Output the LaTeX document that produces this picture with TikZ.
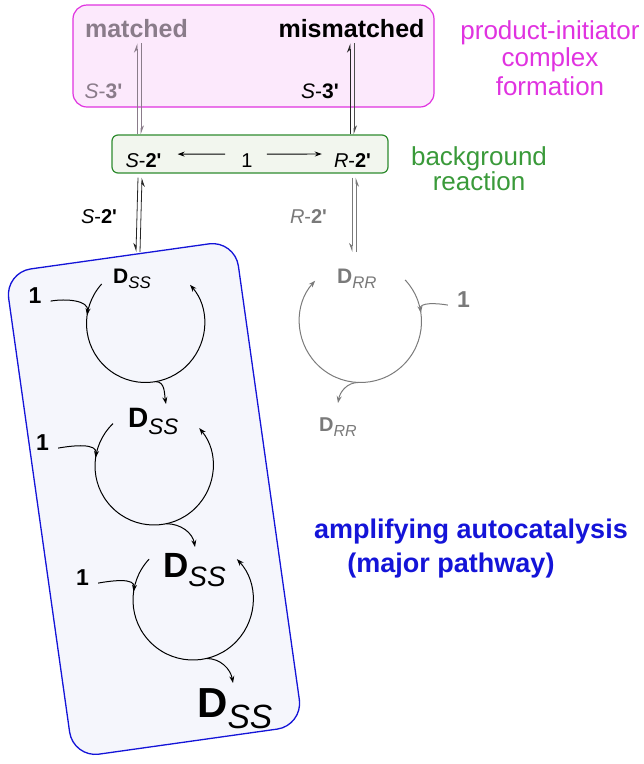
\documentclass[tikz,border=0pt]{standalone}
\usepackage{fontspec}
\setmainfont{Liberation Sans}
\usetikzlibrary{arrows.meta,calc}
\definecolor{mag}{HTML}{E033E0}
\definecolor{magfill}{HTML}{FCE9FC}
\definecolor{grn}{HTML}{2E8B2E}
\definecolor{grntext}{HTML}{3A9A3A}
\definecolor{grnfill}{HTML}{F2F6EE}
\definecolor{blu}{HTML}{1414D8}
\definecolor{blufill}{HTML}{F5F6FC}
\definecolor{pgray}{HTML}{8A7C8A}
\definecolor{rgray}{HTML}{7A7A7A}
\newcommand{\fsz}[1]{\fontsize{#1}{#1}\selectfont}
\newcommand{\Dsub}[1]{\textbf{D}\raisebox{-0.28em}{\scalebox{0.8}{\itshape #1}}}
\newcommand{\pr}{\textquotesingle}
\begin{document}
\begin{tikzpicture}[x=1pt,y=1pt,
  txt/.style={inner sep=0pt, anchor=base},
  dlab/.style={inner sep=0pt, anchor=base west},
  harr/.style={line width=0.9pt, -{Stealth[length=7pt,width=5pt]}},
  hp/.style={line width=0.8pt, -{Stealth[harpoon,length=8pt,width=6pt]}},
  hps/.style={line width=0.8pt, -{Stealth[harpoon,swap,length=8pt,width=6pt]}},
  cyc/.style={line width=1pt, -{Stealth[length=7pt,width=5pt]}},
  onelab/.style={inner sep=0pt, anchor=base, font=\fsz{23}\bfseries},
]
\useasboundingbox (0,0) rectangle (644,-764);

% boxes
\node[draw=mag, fill=magfill, line width=1.2pt, rounded corners=14pt,
      minimum width=361pt, minimum height=102pt] (pbox) at (253.5,-56) {};
\node[draw=grn, fill=grnfill, line width=1.2pt, rounded corners=6pt,
      minimum width=276pt, minimum height=38pt] (gbox) at (250,-154) {};
\node[draw=blu, fill=blufill, line width=1.3pt, rounded corners=26pt,
      minimum width=232pt, minimum height=490pt, rotate=8] (bbox) at (154,-499) {};

% top labels
\node[txt, pgray, font=\fsz{25}\bfseries] (matched) at (136.5,-37) {matched};
\node[txt, font=\fsz{25}\bfseries] (mismatched) at (351.5,-37) {mismatched};
\node[txt, pgray, font=\fsz{21}] (s3a) at (103.5,-98) {\textit{S}-\textbf{3\pr}};
\node[txt, font=\fsz{21}] (s3b) at (320,-98) {\textit{S}-\textbf{3\pr}};

% side labels
\node[txt, mag, font=\fsz{26}] (pi1) at (550,-39) {product-initiator};
\node[txt, mag, font=\fsz{26}] (pi2) at (550,-66) {complex};
\node[txt, mag, font=\fsz{26}] (pi3) at (550,-95) {formation};
\node[txt, grntext, font=\fsz{26}] (bg1) at (479,-165) {background};
\node[txt, grntext, font=\fsz{26}] (bg2) at (479,-190) {reaction};
\node[txt, blu, font=\fsz{27}\bfseries] (amp1) at (471,-538) {amplifying autocatalysis};
\node[txt, blu, font=\fsz{27}\bfseries] (amp2) at (451,-572) {(major pathway)};

% green box content
\node[txt, font=\fsz{20}] (S2) at (143.5,-167) {\textit{S}-\textbf{2\pr}};
\node[txt, font=\fsz{20}] (one) at (247,-167) {1};
\node[txt, font=\fsz{20}] (R2) at (352.5,-167) {\textit{R}-\textbf{2\pr}};
\draw[harr] ([shift={(-16pt,6pt)}]one.west) -- ([shift={(16pt,6pt)}]S2.east);
\draw[harr] ([shift={(14pt,6pt)}]one.east) -- ([shift={(-12pt,6pt)}]R2.west);

% top equilibria
\draw[hp, pgray] ([xshift=-113pt]gbox.north) -- ([shift={(0.5pt,-6pt)}]matched.south);
\draw[hp, pgray] ([shift={(4.5pt,-6pt)}]matched.south) -- ([xshift=-109pt]gbox.north);
\draw[hp, black!85] ([xshift=100pt]gbox.north) -- ([shift={(-1.5pt,-6pt)}]mismatched.south);
\draw[hp, black!70] ([shift={(2.5pt,-6pt)}]mismatched.south) -- ([xshift=104pt]gbox.north);

% lower equilibria
\coordinate (Lbot) at (138,-252);
\coordinate (Rbot) at (354,-252);
\draw[hps, black!85] ([shift={(-112pt,-4pt)}]gbox.south) -- ([xshift=-2pt]Lbot);
\draw[hps, black!85] ([xshift=2pt]Lbot) -- ([shift={(-108pt,-4pt)}]gbox.south);
\draw[hps, rgray] ([shift={(102pt,-4pt)}]gbox.south) -- ([xshift=-2pt]Rbot);
\draw[hps, rgray] ([xshift=2pt]Rbot) -- ([shift={(106pt,-4pt)}]gbox.south);
\node[txt, font=\fsz{20}] (S2b) at (99,-223) {\textit{S}-\textbf{2\pr}};
\node[txt, rgray, font=\fsz{20}] (R2b) at (308.5,-223) {\textit{R}-\textbf{2\pr}};

% cycle 1
\coordinate (c1) at (145.5,-323.5);
\node[dlab, font=\fsz{21}] (D1) at (113,-283) {\Dsub{SS}};
\node[onelab] (o1) at (35,-303) {1};
\draw[cyc] ($(c1)+(138:59)$) arc[start angle=138, end angle=401, radius=59];
\draw[cyc] ([shift={(9pt,-6pt)}]o1.east) to[out=10, in=82] ($(c1)+(172:59)$);
\coordinate (t1) at (166,-404);
\draw[cyc] ($(c1)+(280:59)$) to[out=0, in=100] (t1);

% cycle 2
\coordinate (c2) at (154,-466);
\node[dlab, font=\fsz{28}] (D2) at (128,-427) {\Dsub{SS}};
\node[onelab] (o2) at (42.5,-450) {1};
\draw[cyc] ($(c2)+(134:59)$) arc[start angle=134, end angle=400, radius=59];
\draw[cyc] ([shift={(9pt,-6pt)}]o2.east) to[out=10, in=82] ($(c2)+(172:59)$);
\coordinate (t2) at (195,-547);
\draw[cyc] ($(c2)+(282:59)$) to[out=0, in=100] (t2);

% cycle 3
\coordinate (c3) at (193,-600);
\node[dlab, font=\fsz{35}] (D3) at (163,-577) {\Dsub{SS}};
\node[onelab] (o3) at (82.5,-585) {1};
\draw[cyc] ($(c3)+(137:60)$) arc[start angle=137, end angle=403, radius=60];
\draw[cyc] ([shift={(9pt,-6pt)}]o3.east) to[out=10, in=82] ($(c3)+(172:60)$);
\coordinate (t3) at (233,-683);
\draw[cyc] ($(c3)+(283:60)$) to[out=0, in=100] (t3);
\node[dlab, font=\fsz{42}] (D4) at (197,-717) {\Dsub{SS}};

% gray cycle
\coordinate (cr) at (360.5,-321.5);
\node[dlab, rgray, font=\fsz{21}] (DR1) at (337,-283) {\Dsub{RR}};
\node[onelab, rgray] (or) at (463.5,-307) {1};
\draw[cyc, rgray] ($(cr)+(43:61)$) arc[start angle=43, end angle=-222, radius=61];
\draw[cyc, rgray] ([shift={(-9pt,-6pt)}]or.west) to[out=170, in=98] ($(cr)+(8:61)$);
\coordinate (tr) at (338,-403);
\draw[cyc, rgray] ($(cr)+(268:61)$) to[out=180, in=80] (tr);
\node[dlab, rgray, font=\fsz{20}] (DR2) at (319,-431) {\Dsub{RR}};
\end{tikzpicture}
\end{document}
